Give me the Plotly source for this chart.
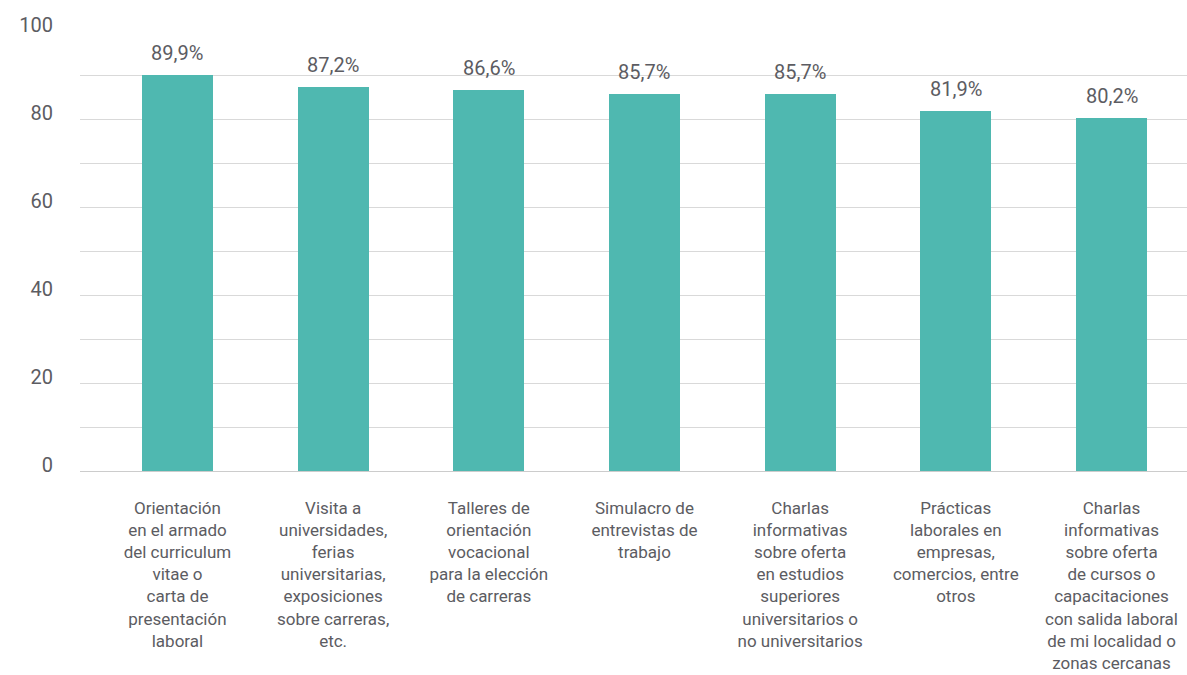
import plotly.graph_objects as go

categories = [
    "Orientación<br>en el armado<br>del curriculum<br>vitae o<br>carta de<br>presentación<br>laboral",
    "Visita a<br>universidades,<br>ferias<br>universitarias,<br>exposiciones<br>sobre carreras,<br>etc.",
    "Talleres de<br>orientación<br>vocacional<br>para la elección<br>de carreras",
    "Simulacro de<br>entrevistas de<br>trabajo",
    "Charlas<br>informativas<br>sobre oferta<br>en estudios<br>superiores<br>universitarios o<br>no universitarios",
    "Prácticas<br>laborales en<br>empresas,<br>comercios, entre<br>otros",
    "Charlas<br>informativas<br>sobre oferta<br>de cursos o<br>capacitaciones<br>con salida laboral<br>de mi localidad o<br>zonas cercanas",
]
values = [89.9, 87.2, 86.6, 85.7, 85.7, 81.9, 80.2]
y_tickvals = [0, 10, 20, 30, 40, 50, 60, 70, 80, 90, 100]
y_ticktext = ["0", "", "20", "", "40", "", "60", "", "80", "", "100"]

FONT = "Roboto"
TEXT = "#5c5c62"
BAR = "#4fb8b0"

fig = go.Figure()
fig.add_trace(go.Bar(
    x=list(range(len(categories))),
    y=values,
    marker=dict(color=BAR, line=dict(width=0)),
    width=0.456,
    hoverinfo="skip",
))

for i, v in enumerate(values):
    fig.add_annotation(
        x=i, y=v, text=f"{v:.1f}%".replace(".", ","),
        showarrow=False, yanchor="bottom", yshift=8,
        font=dict(family=FONT, size=20, color=TEXT),
    )

fig.update_layout(
    width=1187, height=675,
    margin=dict(l=80, r=0, t=31, b=204),
    plot_bgcolor="white", paper_bgcolor="white",
    showlegend=False,
    font=dict(family=FONT, color=TEXT),
    bargap=0,
)
fig.update_xaxes(
    range=[-0.626, 6.485],
    tickvals=list(range(len(categories))),
    ticktext=categories,
    tickfont=dict(family=FONT, size=17, color=TEXT),
    showgrid=False, zeroline=False, showline=False,
    ticks="", ticklabelstandoff=25, automargin=False,
)
fig.update_yaxes(
    range=[0, 100],
    tickvals=y_tickvals, ticktext=y_ticktext,
    tickfont=dict(family=FONT, size=20, color=TEXT),
    showgrid=True, gridcolor="#d9d9d9", gridwidth=1,
    zeroline=True, zerolinecolor="#cccccc", zerolinewidth=1,
    showline=False, ticks="", automargin=False,
    ticklabelstandoff=26, ticklabelshift=-6,
)

fig.write_html(
    "out.html",
    config={"displayModeBar": False},
    post_script="document.body.style.margin='0';document.body.style.overflow='hidden';",
)
